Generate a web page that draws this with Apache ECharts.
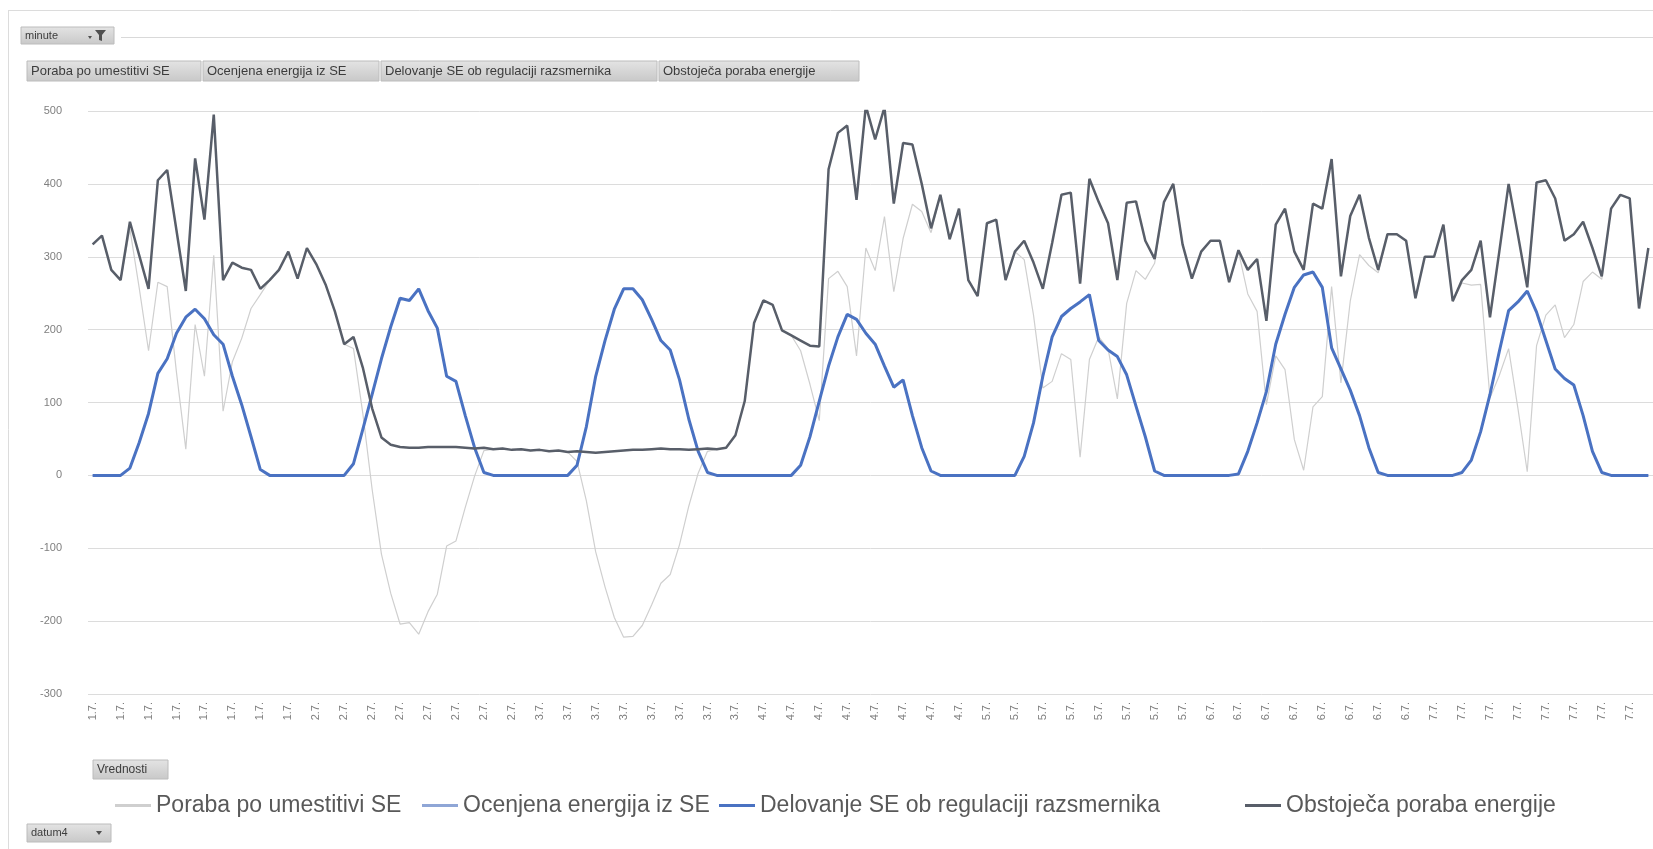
<!DOCTYPE html>
<html>
<head>
<meta charset="utf-8">
<title>Poraba in proizvodnja SE</title>
<script src="https://cdn.jsdelivr.net/npm/echarts@6/dist/echarts.min.js"></script>
<style>
  html, body { margin: 0; padding: 0; background: #ffffff; }
  #chart { width: 1653px; height: 849px; }
</style>
</head>
<body>
<div id="chart"></div>
<script>
// Days shown on the category axis; one value per hour
const days = ['1.7.', '2.7.', '3.7.', '4.7.', '5.7.', '6.7.', '7.7.'];
const hoursPerDay = 24;

// Value axis range (kW)
const yMin = -300;
const yMax = 500;
const yStep = 100;

// Obstoječa poraba energije (existing consumption)
const obstojecaPoraba = [
  317, 329, 282, 268, 348, 302, 256, 405, 419, 336, 253, 435, 351, 495, 268, 292, 285, 282, 256, 268, 282, 307, 270, 312,
  290, 262, 225, 180, 190, 148, 92, 52, 42, 39, 38, 38, 39, 39, 39, 39, 38, 37, 38, 36, 37, 35, 36, 34,
  35, 33, 34, 32, 33, 32, 31, 32, 33, 34, 35, 35, 36, 37, 36, 36, 35, 36, 37, 36, 38, 55, 102, 209,
  240, 234, 199, 192, 185, 178, 177, 420, 470, 480, 378, 507, 461, 505, 373, 456, 454, 400, 339, 385, 324, 366, 268, 246,
  346, 351, 268, 307, 322, 292, 256, 319, 385, 388, 263, 407, 375, 346, 268, 374, 376, 322, 297, 375, 400, 317, 270, 307,
  322, 322, 265, 309, 282, 297, 212, 344, 366, 307, 282, 373, 366, 434, 273, 356, 385, 326, 282, 331, 331, 322, 243, 300,
  300, 344, 239, 268, 282, 322, 217, 307, 400, 330, 258, 402, 405, 380, 322, 331, 348, 312, 273, 366, 385, 380, 229, 312
];

// Delovanje SE ob regulaciji razsmernika (PV output with inverter control)
const delovanjeSE = [
  0, 0, 0, 0, 10, 45, 85, 140, 160, 195, 217, 228, 215, 193, 180, 136, 97, 53, 8, 0, 0, 0, 0, 0,
  0, 0, 0, 0, 16, 63, 111, 160, 204, 243, 240, 256, 226, 202, 136, 129, 82, 38, 4, 0, 0, 0, 0, 0,
  0, 0, 0, 0, 14, 67, 136, 185, 228, 256, 256, 241, 214, 185, 172, 131, 77, 33, 4, 0, 0, 0, 0, 0,
  0, 0, 0, 0, 14, 53, 102, 150, 190, 221, 214, 195, 180, 150, 121, 131, 82, 38, 6, 0, 0, 0, 0, 0,
  0, 0, 0, 0, 26, 72, 136, 190, 218, 229, 238, 248, 185, 172, 163, 138, 95, 53, 6, 0, 0, 0, 0, 0,
  0, 0, 0, 2, 33, 72, 115, 180, 221, 258, 275, 279, 258, 175, 146, 117, 82, 38, 4, 0, 0, 0, 0, 0,
  0, 0, 0, 4, 21, 60, 111, 170, 226, 238, 253, 224, 185, 146, 133, 124, 82, 33, 4, 0, 0, 0, 0, 0
];

// Ocenjena energija iz SE (estimated PV energy)
const ocenjenaEnergija = [
  0, 0, 0, 0, 10, 45, 85, 140, 160, 195, 217, 228, 215, 193, 180, 136, 97, 53, 8, 0, 0, 0, 0, 0,
  0, 0, 0, 0, 16, 63, 111, 160, 204, 243, 240, 256, 226, 202, 136, 129, 82, 38, 4, 0, 0, 0, 0, 0,
  0, 0, 0, 0, 14, 67, 136, 185, 228, 256, 256, 241, 214, 185, 172, 131, 77, 33, 4, 0, 0, 0, 0, 0,
  0, 0, 0, 0, 14, 53, 102, 150, 190, 221, 214, 195, 180, 150, 121, 131, 82, 38, 6, 0, 0, 0, 0, 0,
  0, 0, 0, 0, 26, 72, 136, 190, 218, 229, 238, 248, 185, 172, 163, 138, 95, 53, 6, 0, 0, 0, 0, 0,
  0, 0, 0, 2, 33, 72, 115, 180, 221, 258, 275, 279, 258, 175, 146, 117, 82, 38, 4, 0, 0, 0, 0, 0,
  0, 0, 0, 4, 21, 60, 111, 170, 226, 238, 253, 224, 185, 146, 133, 124, 82, 33, 4, 0, 0, 0, 0, 0
];

// Poraba po umestitivi SE (consumption after the PV plant is installed)
const porabaPoUmestitvi = [
  317, 329, 282, 268, 338, 257, 171, 265, 259, 141, 36, 207, 136, 302, 88, 156, 188, 229, 248, 268, 282, 307, 270, 312,
  290, 262, 225, 180, 174, 85, -19, -108, -162, -204, -202, -218, -187, -163, -97, -90, -44, -1, 34, 36, 37, 35, 36, 34,
  35, 33, 34, 32, 19, -35, -105, -153, -195, -222, -221, -206, -178, -148, -136, -95, -42, 3, 33, 36, 38, 55, 102, 209,
  240, 234, 199, 192, 171, 125, 75, 270, 280, 259, 164, 312, 281, 355, 252, 325, 372, 362, 333, 385, 324, 366, 268, 246,
  346, 351, 268, 307, 296, 220, 120, 129, 167, 159, 25, 159, 190, 174, 105, 236, 281, 269, 291, 375, 400, 317, 270, 307,
  322, 322, 265, 307, 249, 225, 97, 164, 145, 49, 7, 94, 108, 259, 127, 239, 303, 288, 278, 331, 331, 322, 243, 300,
  300, 344, 239, 264, 261, 262, 106, 137, 174, 92, 5, 178, 220, 234, 189, 207, 266, 279, 269, 366, 385, 380, 229, 312
];

const seriesNames = [
  'Poraba po umestitivi SE',
  'Ocenjena energija iz SE',
  'Delovanje SE ob regulaciji razsmernika',
  'Obstoječa poraba energije'
];

// Hourly category labels: every hour carries its day label
const categories = days.flatMap(d => Array(hoursPerDay).fill(d));

const FONT = 'Liberation Sans, Arial, sans-serif';
const chart = echarts.init(document.getElementById('chart'), null, { renderer: 'canvas' });

// Grey pivot-table field button
function pivotButton(x, y, w, h, label, size, withArrow) {
  const children = [
    {
      type: 'rect',
      shape: { x: 0, y: 0, width: w, height: h },
      style: {
        fill: new echarts.graphic.LinearGradient(0, 0, 0, 1, [
          { offset: 0, color: '#e4e4e4' },
          { offset: 1, color: '#c8c8c8' }
        ]),
        stroke: '#bcbcbc',
        lineWidth: 1
      }
    },
    {
      type: 'text',
      x: 4,
      y: h / 2,
      style: { text: label, fontFamily: FONT, fontSize: size, fill: '#3c3c3c', verticalAlign: 'middle' }
    }
  ];
  if (withArrow) {
    children.push({
      type: 'polygon',
      shape: { points: [[w - 15, h / 2 - 2], [w - 9, h / 2 - 2], [w - 12, h / 2 + 2]] },
      style: { fill: '#505050' }
    });
  }
  return { type: 'group', x: x, y: y, children: children };
}

const graphics = [
  // frame of the pivot chart
  { type: 'line', shape: { x1: 8, y1: 10.5, x2: 1653, y2: 10.5 }, style: { stroke: '#dcdcdc', lineWidth: 1 } },
  { type: 'line', shape: { x1: 8.5, y1: 10, x2: 8.5, y2: 849 }, style: { stroke: '#dcdcdc', lineWidth: 1 } },
  { type: 'line', shape: { x1: 121, y1: 37.5, x2: 1653, y2: 37.5 }, style: { stroke: '#d9d9d9', lineWidth: 1 } },

  // report filter button
  pivotButton(21, 27, 93, 17, 'minute', 11, false),
  {
    type: 'group', x: 88, y: 30,
    children: [
      { type: 'polygon', shape: { points: [[0, 6], [4, 6], [2, 9]] }, style: { fill: '#505050' } },
      { type: 'polygon', shape: { points: [[7, 0], [18, 0], [14, 5], [14, 11], [11, 10], [11, 5]] }, style: { fill: '#505050' } }
    ]
  },

  // value field buttons
  pivotButton(27, 61, 174, 20, seriesNames[0], 13, false),
  pivotButton(203, 61, 176, 20, seriesNames[1], 13, false),
  pivotButton(381, 61, 276, 20, seriesNames[2], 13, false),
  pivotButton(659, 61, 200, 20, seriesNames[3], 13, false),

  // axis field buttons
  pivotButton(93, 760, 75, 19, 'Vrednosti', 12, false),
  pivotButton(27, 824, 84, 18, 'datum4', 11, true)
];

const legendLeft = [110, 417, 714, 1240];

chart.setOption({
  animation: false,
  backgroundColor: '#ffffff',
  textStyle: { fontFamily: FONT },
  grid: { left: 88, right: 0, top: 111, bottom: 155 },
  legend: seriesNames.map((name, k) => ({
    data: [name],
    left: legendLeft[k],
    top: 789,
    icon: 'rect',
    itemWidth: 36,
    itemHeight: 3,
    itemGap: 0,
    selectedMode: false,
    textStyle: { fontFamily: FONT, fontSize: 23, color: '#595959' }
  })),
  xAxis: {
    type: 'category',
    data: categories,
    boundaryGap: true,
    axisLine: { show: false },
    axisTick: { show: false },
    splitLine: { show: false },
    axisLabel: {
      interval: 2,
      rotate: 90,
      margin: 8,
      fontSize: 11,
      color: '#7f7f7f',
      fontFamily: FONT
    }
  },
  yAxis: {
    type: 'value',
    min: yMin,
    max: yMax,
    interval: yStep,
    axisLine: { show: false },
    axisTick: { show: false },
    axisLabel: { fontSize: 11, color: '#7f7f7f', margin: 26, fontFamily: FONT },
    splitLine: { lineStyle: { color: '#dcdcdc', width: 1 } }
  },
  series: [
    {
      name: seriesNames[0],
      type: 'line',
      data: porabaPoUmestitvi,
      symbol: 'none',
      lineStyle: { color: '#cfcfcf', width: 1.2 },
      itemStyle: { color: '#cfcfcf' },
      z: 1
    },
    {
      name: seriesNames[1],
      type: 'line',
      data: ocenjenaEnergija,
      symbol: 'none',
      lineStyle: { color: '#8fa6d6', width: 1.5 },
      itemStyle: { color: '#8fa6d6' },
      z: 2
    },
    {
      name: seriesNames[2],
      type: 'line',
      data: delovanjeSE,
      symbol: 'none',
      lineStyle: { color: '#4a72c2', width: 3 },
      itemStyle: { color: '#4a72c2' },
      z: 3
    },
    {
      name: seriesNames[3],
      type: 'line',
      data: obstojecaPoraba,
      symbol: 'none',
      lineStyle: { color: '#585e69', width: 2.5 },
      itemStyle: { color: '#585e69' },
      z: 4
    }
  ],
  graphic: graphics
});
</script>
</body>
</html>
